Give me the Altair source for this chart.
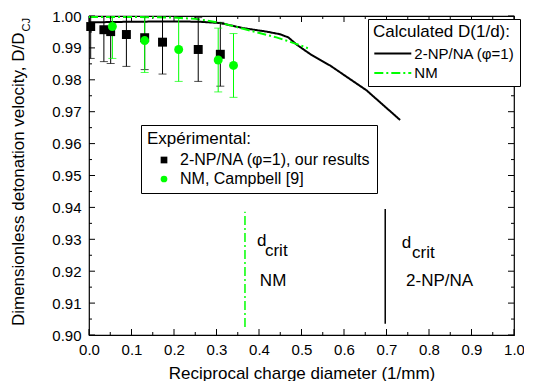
import altair as alt
import pandas as pd

# ---------------- data ----------------
# calculated curves D(1/d)
np_curve_x = [0.0, 0.1, 0.2, 0.26, 0.308, 0.363, 0.418, 0.449, 0.469, 0.489, 0.52, 0.567, 0.653, 0.732]
np_curve_y = [0.9980, 0.9982, 0.9983, 0.9982, 0.9978, 0.9962, 0.9951, 0.9943, 0.9933, 0.9910, 0.9881, 0.9845, 0.9767, 0.9674]
nm_curve_x = [0.0, 0.1, 0.2, 0.25, 0.308, 0.363, 0.441, 0.489, 0.515]
nm_curve_y = [0.9997, 0.9997, 0.9995, 0.9991, 0.9979, 0.9960, 0.9933, 0.9912, 0.9899]
calc_names = ["2-NP/NA (φ=1)", "NM"]

# experimental points
np_exp_x = [0.004, 0.035, 0.051, 0.088, 0.131, 0.173, 0.257, 0.309]
np_exp_y = [0.9967, 0.9957, 0.9951, 0.9942, 0.9932, 0.9918, 0.9895, 0.9880]
nm_exp_x = [0.055, 0.131, 0.211, 0.304, 0.340]
nm_exp_y = [0.9967, 0.9923, 0.9895, 0.9862, 0.9845]
exp_err = 0.01
exp_names = ["2-NP/NA (φ=1), our results", "NM, Campbell [9]"]

# critical diameter markers
crit_nm_x = [0.367]
crit_nm_lo = [0.9025]
crit_nm_hi = [0.9386]
crit_np_x = [0.697]
crit_np_lo = [0.9035]
crit_np_hi = [0.9395]

# annotations
ann_d_x = [0.395, 0.736]
ann_d_y = [0.9280, 0.9274]
ann_crit_x = [0.414, 0.760]
ann_crit_y = [0.9248, 0.9241]
ann_name_x = [0.402, 0.746]
ann_name_y = [0.9168, 0.9168]
ann_names = ["NM", "2-NP/NA"]

# ticks
x_major = [0.0, 0.1, 0.2, 0.3, 0.4, 0.5, 0.6, 0.7, 0.8, 0.9, 1.0]
x_minor = [0.05, 0.15, 0.25, 0.35, 0.45, 0.55, 0.65, 0.75, 0.85, 0.95]
y_major = [0.90, 0.91, 0.92, 0.93, 0.94, 0.95, 0.96, 0.97, 0.98, 0.99, 1.00]
y_minor = [0.905, 0.915, 0.925, 0.935, 0.945, 0.955, 0.965, 0.975, 0.985, 0.995]

GREEN = "#00ff00"
FONT = "Liberation Sans"
W, H = 425, 319

# ---------------- tables ----------------
curve_df = pd.DataFrame({
    "x": np_curve_x + nm_curve_x,
    "y": np_curve_y + nm_curve_y,
    "series": [calc_names[0]] * len(np_curve_x) + [calc_names[1]] * len(nm_curve_x),
})
np_df = pd.DataFrame({"x": np_exp_x, "y": np_exp_y, "exp": exp_names[0]})
nm_df = pd.DataFrame({"x": nm_exp_x, "y": nm_exp_y, "exp": exp_names[1]})
for d in (np_df, nm_df):
    d["lo"] = d["y"] - exp_err
    d["hi"] = d["y"] + exp_err
exp_df = pd.concat([np_df, nm_df], ignore_index=True)

xs = alt.Scale(domain=[0, 1], nice=False, zero=False)
ys = alt.Scale(domain=[0.9, 1.0], nice=False, zero=False)
xaxis = alt.Axis(values=x_major, format=".1f", ticks=False, tickSize=0, domain=False, grid=False,
                 labelFontSize=15, labelPadding=7, labelFont=FONT, labelColor="black",
                 titleFontSize=17, titleFont=FONT, titleFontWeight="normal", titleColor="black",
                 titlePadding=8, labelFlush=False)
yaxis = alt.Axis(values=y_major, format=".2f", ticks=False, tickSize=0, domain=False, grid=False,
                 labelFontSize=15, labelPadding=8, labelFont=FONT, labelColor="black", labelFlush=False)


def X(field="x"):
    return alt.X(f"{field}:Q", scale=xs, axis=xaxis, title="Reciprocal charge diameter (1/mm)")


def Y(field="y"):
    return alt.Y(f"{field}:Q", scale=ys, axis=yaxis, title=None)


calc_legend = alt.Legend(title="Calculated D(1/d):", orient="none", legendX=279, legendY=3,
                         symbolType="M-3,0H3", symbolSize=152, symbolStrokeWidth=2,
                         symbolOffset=12.3, labelOffset=14, labelLimit=400,
                         strokeColor="black", fillColor="white", padding=5,
                         titleFontSize=17, titleFontWeight="normal", titleFont=FONT, titleColor="black",
                         labelFontSize=15, labelFont=FONT, labelColor="black", rowPadding=3.5,
                         titlePadding=5)
exp_legend = alt.Legend(title="Expérimental:", orient="none", legendX=52, legendY=109,
                        symbolSize=45, symbolOffset=9, labelOffset=8, symbolStrokeWidth=0,
                        labelLimit=400,
                        strokeColor="black", fillColor="white", padding=6,
                        titleFontSize=17, titleFontWeight="normal", titleFont=FONT, titleColor="black",
                        labelFontSize=16, labelFont=FONT, labelColor="black", rowPadding=3,
                        titlePadding=4)

calc_color = alt.Scale(domain=calc_names, range=["black", GREEN])
calc_dash = alt.Scale(domain=calc_names, range=[[1, 0], [9, 3, 2, 3]])
exp_color = alt.Scale(domain=exp_names, range=["black", GREEN])
exp_shape = alt.Scale(domain=exp_names, range=["square", "circle"])

lines = alt.Chart(curve_df).mark_line(strokeWidth=2).encode(
    x=X(), y=Y(),
    color=alt.Color("series:N", scale=calc_color, legend=calc_legend),
    strokeDash=alt.StrokeDash("series:N", scale=calc_dash, legend=calc_legend),
)


def errbars(df, col):
    r = alt.Chart(df).mark_rule(strokeWidth=1, clip=True, color=col).encode(x=X(), y=Y("lo"), y2="hi")
    lo = alt.Chart(df).mark_tick(thickness=1, size=8, orient="horizontal", clip=True, color=col).encode(
        x=X(), y=Y("lo"))
    hi = alt.Chart(df).mark_tick(thickness=1, size=8, orient="horizontal", clip=True, color=col).encode(
        x=X(), y=Y("hi"))
    return [r, lo, hi]


points = alt.Chart(exp_df).mark_point(filled=True, size=80, opacity=1, strokeWidth=0).encode(
    x=X(), y=Y(),
    fill=alt.Fill("exp:N", scale=exp_color, legend=exp_legend),
    shape=alt.Shape("exp:N", scale=exp_shape, legend=exp_legend),
)

crit_nm = alt.Chart(pd.DataFrame({"x": crit_nm_x, "lo": crit_nm_lo, "hi": crit_nm_hi})).mark_rule(
    color=GREEN, strokeWidth=1.5, strokeDash=[9, 3, 2, 3]).encode(x=X(), y=Y("lo"), y2="hi")
crit_np = alt.Chart(pd.DataFrame({"x": crit_np_x, "lo": crit_np_lo, "hi": crit_np_hi})).mark_rule(
    color="black", strokeWidth=1.5).encode(x=X(), y=Y("lo"), y2="hi")

txt_d = alt.Chart(pd.DataFrame({"x": ann_d_x, "y": ann_d_y, "t": ["d", "d"]})).mark_text(
    align="left", baseline="alphabetic", fontSize=17, font=FONT, color="black").encode(x=X(), y=Y(), text="t:N")
txt_crit = alt.Chart(pd.DataFrame({"x": ann_crit_x, "y": ann_crit_y, "t": ["crit", "crit"]})).mark_text(
    align="left", baseline="alphabetic", fontSize=17, font=FONT, color="black").encode(x=X(), y=Y(), text="t:N")
txt_name = alt.Chart(pd.DataFrame({"x": ann_name_x, "y": ann_name_y, "t": ann_names})).mark_text(
    align="left", baseline="middle", fontSize=17, font=FONT, color="black").encode(x=X(), y=Y(), text="t:N")

# y-axis title with subscript
ytitle = alt.Chart(pd.DataFrame({"t": ["Dimensionless detonation velocity, D/D"]})).mark_text(
    angle=270, align="right", baseline="middle", fontSize=17, font=FONT, color="black").encode(
    x=alt.value(-70), y=alt.value(16.5), text="t:N")
ysub = alt.Chart(pd.DataFrame({"t": ["CJ"]})).mark_text(
    angle=270, align="left", baseline="middle", fontSize=11, font=FONT, color="black").encode(
    x=alt.value(-62), y=alt.value(15.5), text="t:N")

# inward ticks on all four sides
dfx_major = pd.DataFrame({"x": x_major})
dfx_minor = pd.DataFrame({"x": x_minor})
dfy_major = pd.DataFrame({"y": y_major})
dfy_minor = pd.DataFrame({"y": y_minor})
tick_layers = []
for df, ln in [(dfx_major, 6), (dfx_minor, 3)]:
    tick_layers.append(alt.Chart(df).mark_rule(color="black", strokeWidth=1).encode(
        x=X(), y=alt.value(H), y2=alt.value(H - ln)))
    tick_layers.append(alt.Chart(df).mark_rule(color="black", strokeWidth=1).encode(
        x=X(), y=alt.value(0), y2=alt.value(ln)))
for df, ln in [(dfy_major, 6), (dfy_minor, 3)]:
    tick_layers.append(alt.Chart(df).mark_rule(color="black", strokeWidth=1).encode(
        y=Y(), x=alt.value(0), x2=alt.value(ln)))
    tick_layers.append(alt.Chart(df).mark_rule(color="black", strokeWidth=1).encode(
        y=Y(), x=alt.value(W), x2=alt.value(W - ln)))

chart = alt.layer(
    *tick_layers, crit_nm, crit_np, txt_d, txt_crit, txt_name,
    lines, *errbars(np_df, "black"), *errbars(nm_df, GREEN), points, ytitle, ysub,
).properties(
    width=W, height=H,
    padding={"left": 81, "top": 8, "right": 10, "bottom": 46},
    autosize=alt.AutoSizeParams(type="none"),
).configure(font=FONT).configure_view(stroke="black", strokeWidth=1.2)

chart.save("out.html", embed_options={"renderer": "svg", "actions": False})
